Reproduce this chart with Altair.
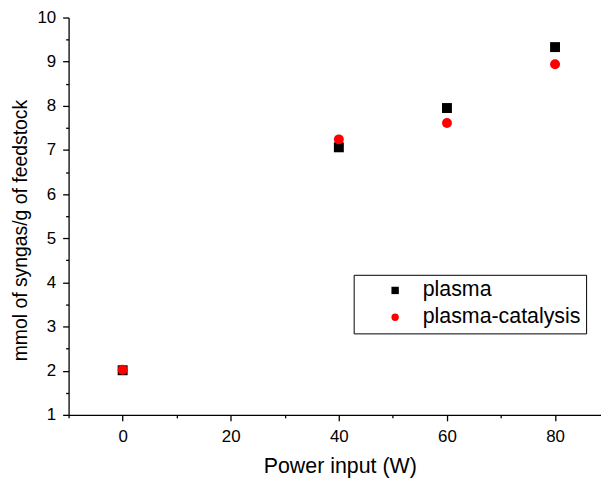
import altair as alt
import pandas as pd

power = [0, 40, 60, 80]
plasma = [2.01, 7.06, 7.95, 9.33]
plasma_catalysis = [2.02, 7.24, 7.61, 8.94]
series_names = ["plasma", "plasma-catalysis"]

rows = []
for p, v in zip(power, plasma):
    rows.append({"power": p, "value": v, "series": series_names[0]})
for p, v in zip(power, plasma_catalysis):
    rows.append({"power": p, "value": v, "series": series_names[1]})
df = pd.DataFrame(rows)

FONT = "Liberation Sans"
xscale = alt.Scale(domain=[-10, 88.5], nice=False, zero=False)
yscale = alt.Scale(domain=[1, 10], nice=False, zero=False)

points = alt.Chart(df).mark_point(filled=True, opacity=1).encode(
    x=alt.X("power:Q", scale=xscale,
            axis=alt.Axis(title="Power input (W)", values=[0, 20, 40, 60, 80],
                          tickSize=6, labelPadding=8, titlePadding=11, titleX=273,
                          labelFontSize=17, titleFontSize=21.5, grid=False)),
    y=alt.Y("value:Q", scale=yscale,
            axis=alt.Axis(title="mmol of syngas/g of feedstock",
                          values=[1, 2, 3, 4, 5, 6, 7, 8, 9, 10],
                          tickSize=6, labelPadding=7, titlePadding=6, titleY=214,
                          labelFontSize=17, titleFontSize=19.5, grid=False)),
    color=alt.Color("series:N",
                    scale=alt.Scale(domain=series_names, range=["#000000", "#ff0000"]),
                    legend=alt.Legend(title=None, orient="none", legendX=287, legendY=259,
                                      strokeColor="black", fillColor="white", padding=5,
                                      labelFontSize=21.5, labelFont=FONT, symbolSize=55,
                                      symbolOffset=26, labelOffset=17, rowPadding=4,
                                      labelLimit=300,
                                      cornerRadius=0, symbolStrokeWidth=0)),
    shape=alt.Shape("series:N",
                    scale=alt.Scale(domain=series_names, range=["square", "circle"])),
)

minor = alt.Chart(df).mark_point(opacity=0).encode(
    x=alt.X("power:Q", scale=xscale,
            axis=alt.Axis(title=None, values=[-10, 10, 30, 50, 70], labels=False,
                          domain=False, tickSize=3, grid=False, orient="bottom")),
    y=alt.Y("value:Q", scale=yscale,
            axis=alt.Axis(title=None, values=[1.5, 2.5, 3.5, 4.5, 5.5, 6.5, 7.5, 8.5, 9.5],
                          labels=False, domain=False, tickSize=3, grid=False, orient="left")),
)

chart = alt.layer(points, minor).resolve_axis(x="independent", y="independent").properties(
    width=536, height=400,
    autosize=alt.AutoSizeParams(type="none"),
    padding={"left": 61, "top": 8, "right": 0, "bottom": 62},
).configure_view(stroke=None).configure_point(size=100).configure_axis(
    domainColor="black", tickColor="black", labelColor="black", titleColor="black",
    labelFont=FONT, titleFont=FONT, domainWidth=1.3, tickWidth=1.3,
    titleFontWeight="normal",
).configure_legend(labelColor="black")

chart.save("out.html", embed_options={"renderer": "svg", "actions": False})
